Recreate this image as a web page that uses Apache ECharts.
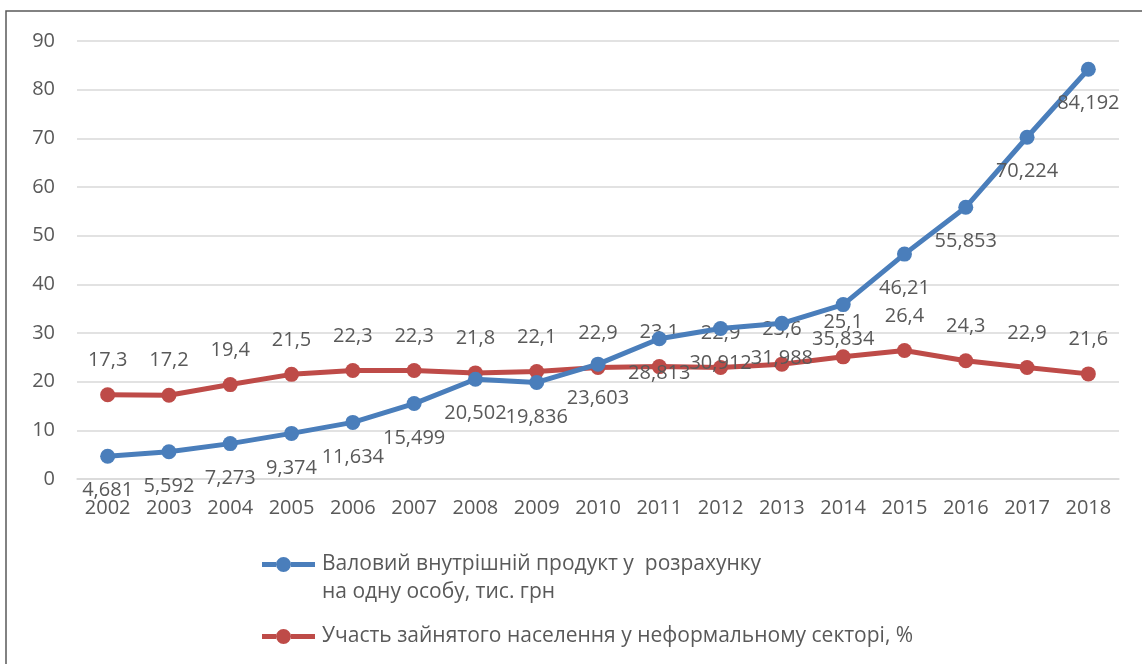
<!DOCTYPE html>
<html>
<head>
<meta charset="utf-8">
<script src="https://cdn.jsdelivr.net/npm/echarts@6/dist/echarts.min.js"></script>
<style>
html,body{margin:0;padding:0;background:#fff;}
#chart{width:1142px;height:664px;}
</style>
</head>
<body>
<div id="chart"></div>
<script>
const years = ['2002','2003','2004','2005','2006','2007','2008','2009','2010','2011','2012','2013','2014','2015','2016','2017','2018'];
const gdpPerCapita = [4.681,5.592,7.273,9.374,11.634,15.499,20.502,19.836,23.603,28.813,30.912,31.988,35.834,46.21,55.853,70.224,84.192];
const informalShare = [17.3,17.2,19.4,21.5,22.3,22.3,21.8,22.1,22.9,23.1,22.9,23.6,25.1,26.4,24.3,22.9,21.6];
const gdpName = 'Валовий внутрішній продукт у  розрахунку на одну особу, тис. грн';
const gdpLegendLine1 = 'Валовий внутрішній продукт у  розрахунку';
const gdpLegendLine2 = 'на одну особу, тис. грн';
const informalName = 'Участь зайнятого населення у неформальному секторі, %';

const FONT = '"Open Sans", sans-serif';
const GREY = '#595959';
const BLUE = '#4a7ebb';
const RED = '#be4b48';
const fmt = p => String(p.value).replace('.', ',');
const legendIcon = 'path://M0,5.5L14,5.5L14,10.5L0,10.5Z M14,8a7.5,7.5 0 1,0 15,0a7.5,7.5 0 1,0 -15,0Z M29,5.5L53,5.5L53,10.5L29,10.5Z';

const chart = echarts.init(document.getElementById('chart'));
chart.setOption({
  animation: false,
  backgroundColor: '#fff',
  textStyle: {fontFamily: FONT},
  grid: {left: 77, right: 23, top: 41, bottom: 185, containLabel: false},
  xAxis: {
    type: 'category',
    data: years,
    boundaryGap: true,
    axisLine: {show: true, lineStyle: {color: '#d9d9d9', width: 1.5}},
    axisTick: {show: false},
    axisLabel: {color: GREY, fontSize: 20, fontFamily: FONT, margin: 19, interval: 0}
  },
  yAxis: {
    type: 'value',
    min: 0, max: 90, interval: 10,
    axisLine: {show: false},
    axisTick: {show: false},
    splitLine: {lineStyle: {color: '#d9d9d9', width: 1.5}},
    axisLabel: {color: GREY, fontSize: 20, fontFamily: FONT, margin: 22}
  },
  legend: {
    orient: 'vertical',
    left: 257,
    top: 549,
    itemWidth: 53,
    itemHeight: 16,
    itemGap: 51,
    data: [
      {name: gdpName, icon: legendIcon, itemStyle: {color: BLUE}},
      {name: informalName, icon: legendIcon, itemStyle: {color: RED}}
    ],
    formatter: name => name === gdpName ? gdpLegendLine1 : name,
    textStyle: {color: GREY, fontSize: 21, fontFamily: FONT, padding: [0,0,0,2]}
  },
  graphic: [
    {type: 'polyline', shape: {points: [[6,664],[6,11],[1142,11]]}, style: {stroke: '#595959', lineWidth: 1.5, fill: null}},
    {type: 'text', left: 322, top: 582, style: {text: gdpLegendLine2, fill: GREY, font: '21px "Open Sans", sans-serif'}}
  ],
  series: [
    {
      name: gdpName,
      type: 'line',
      data: gdpPerCapita,
      symbol: 'circle',
      symbolSize: 15,
      lineStyle: {color: BLUE, width: 5},
      itemStyle: {color: BLUE},
      label: {show: true, position: 'bottom', distance: 17, color: GREY, fontSize: 20, fontFamily: FONT, formatter: fmt},
      z: 3
    },
    {
      name: informalName,
      type: 'line',
      data: informalShare,
      symbol: 'circle',
      symbolSize: 15,
      lineStyle: {color: RED, width: 5},
      itemStyle: {color: RED},
      label: {show: true, position: 'top', distance: 17, color: GREY, fontSize: 20, fontFamily: FONT, formatter: fmt},
      z: 2
    }
  ]
});
</script>
</body>
</html>
